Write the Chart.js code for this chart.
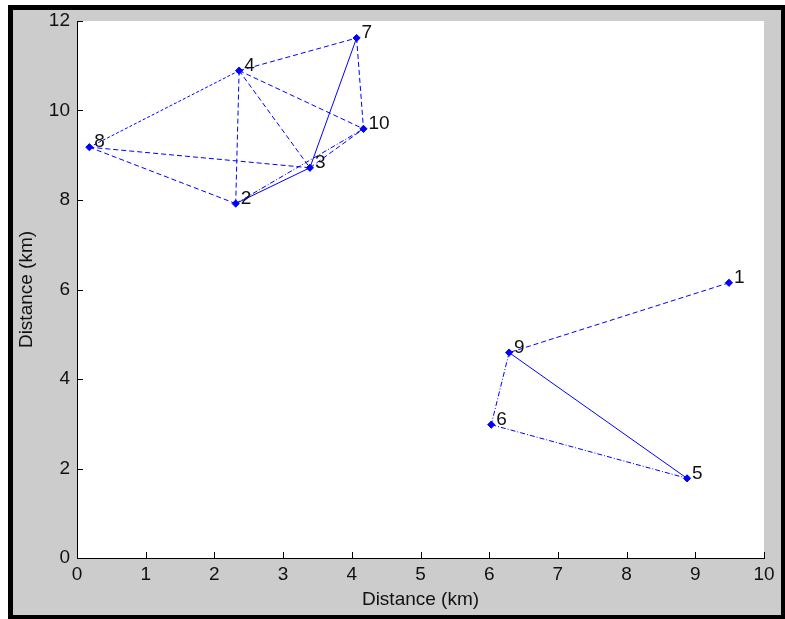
<!DOCTYPE html>
<html>
<head>
<meta charset="utf-8">
<title>Node layout</title>
<script src="https://cdn.jsdelivr.net/npm/chart.js@4/dist/chart.umd.min.js"></script>
<style>
  html, body { margin: 0; padding: 0; background: #ffffff; }
  #wrap { width: 785px; height: 619px; position: relative; }
  canvas { display: block; }
</style>
</head>
<body>
<div id="wrap"><canvas id="plot" width="785" height="619"></canvas></div>
<script>
// Node names and positions (km)
const nodeNames = ['1', '2', '3', '4', '5', '6', '7', '8', '9', '10'];
const nodeX = [9.49, 2.31, 3.39, 2.36, 8.88, 6.03, 4.07, 0.18, 6.29, 4.17];
const nodeY = [6.15, 7.92, 8.72, 10.89, 1.78, 2.98, 11.62, 9.18, 4.59, 9.59];

// Links between nodes (1-based node numbers), grouped by line style
const solidLinks = [[2, 3], [7, 3], [9, 5]];
const dashedLinks = [[8, 3], [4, 2], [4, 3], [4, 10], [4, 7], [7, 10], [1, 9], [8, 2], [3, 10]];
const dottedLinks = [[8, 4]];
const dashDotLinks = [[2, 10], [9, 6], [6, 5]];

// Axis ticks
const xTicks = [0, 1, 2, 3, 4, 5, 6, 7, 8, 9, 10];
const yTicks = [0, 2, 4, 6, 8, 10, 12];

const BLUE = '#0000ff';
const FONT = 'Liberation Sans, Arial, Helvetica, sans-serif';

function linkSet(links, dash) {
  return links.map(([a, b]) => ({
    data: [{ x: nodeX[a - 1], y: nodeY[a - 1] }, { x: nodeX[b - 1], y: nodeY[b - 1] }],
    showLine: true,
    borderColor: BLUE,
    borderWidth: 1,
    borderDash: dash,
    pointRadius: 0,
    fill: false
  }));
}

const datasets = [
  {
    data: nodeX.map((x, i) => ({ x: x, y: nodeY[i] })),
    showLine: false,
    pointStyle: 'rectRot',
    pointRadius: 3.6,
    pointBackgroundColor: BLUE,
    pointBorderColor: BLUE,
    pointBorderWidth: 1
  },
  ...linkSet(solidLinks, []),
  ...linkSet(dashedLinks, [5, 3]),
  ...linkSet(dottedLinks, [3, 2]),
  ...linkSet(dashDotLinks, [5, 2, 1, 2])
];

// Figure frame: grey panel with a black border, white axes area
const framePlugin = {
  id: 'frame',
  beforeDraw(chart) {
    const { ctx, chartArea: a } = chart;
    ctx.save();
    ctx.fillStyle = '#ffffff';
    ctx.fillRect(0, 0, chart.width, chart.height);
    ctx.fillStyle = '#000000';
    ctx.fillRect(8, 5, chart.width - 8, chart.height - 5);
    ctx.fillStyle = '#cccccc';
    ctx.fillRect(13, 10, chart.width - 17, chart.height - 14);
    ctx.fillStyle = '#ffffff';
    ctx.fillRect(a.left, a.top, a.right - a.left, a.bottom - a.top);
    ctx.restore();
  }
};

// Inward tick marks on both axes
const innerTicks = {
  id: 'innerTicks',
  afterDraw(chart) {
    const { ctx, chartArea: a, scales } = chart;
    ctx.save();
    ctx.strokeStyle = '#000000';
    ctx.lineWidth = 1;
    ctx.beginPath();
    xTicks.forEach(v => {
      const px = Math.round(scales.x.getPixelForValue(v)) + 0.5;
      ctx.moveTo(px, a.bottom);
      ctx.lineTo(px, a.bottom - 6);
    });
    yTicks.forEach(v => {
      const py = Math.round(scales.y.getPixelForValue(v)) + 0.5;
      ctx.moveTo(a.left, py);
      ctx.lineTo(a.left + 6, py);
    });
    ctx.stroke();
    ctx.restore();
  }
};

// Node number next to each node
const nodeLabels = {
  id: 'nodeLabels',
  afterDatasetsDraw(chart) {
    const { ctx, scales } = chart;
    ctx.save();
    ctx.fillStyle = '#111111';
    ctx.font = '19px ' + FONT;
    ctx.textAlign = 'left';
    ctx.textBaseline = 'middle';
    nodeNames.forEach((name, i) => {
      const px = scales.x.getPixelForValue(nodeX[i]);
      const py = scales.y.getPixelForValue(nodeY[i]);
      ctx.fillText(name, px + 5, py - 5);
    });
    ctx.restore();
  }
};

new Chart(document.getElementById('plot'), {
  type: 'scatter',
  data: { datasets: datasets },
  options: {
    responsive: false,
    animation: false,
    devicePixelRatio: 1,
    layout: { padding: { left: 0, top: 21, right: 21, bottom: 0 } },
    plugins: { legend: { display: false }, tooltip: { enabled: false } },
    scales: {
      x: {
        type: 'linear',
        min: 0, max: 10,
        afterFit(scale) { scale.height = 61; },
        afterBuildTicks(scale) { scale.ticks = xTicks.map(v => ({ value: v })); },
        grid: { display: false, drawTicks: false },
        border: { display: true, color: '#000000', width: 1 },
        ticks: { padding: 5, color: '#111111', font: { family: FONT, size: 19 }, maxRotation: 0 },
        title: {
          display: true, text: 'Distance (km)', color: '#111111',
          font: { family: FONT, size: 19 }, padding: { top: 0, bottom: 8 }
        }
      },
      y: {
        type: 'linear',
        min: 0, max: 12,
        afterFit(scale) { scale.width = 77; },
        afterBuildTicks(scale) { scale.ticks = yTicks.map(v => ({ value: v })); },
        grid: { display: false, drawTicks: false },
        border: { display: true, color: '#000000', width: 1 },
        ticks: { padding: 7, color: '#111111', font: { family: FONT, size: 19 } },
        title: {
          display: true, text: 'Distance (km)', color: '#111111',
          font: { family: FONT, size: 19 }, padding: { top: 15, bottom: 0 }
        }
      }
    }
  },
  plugins: [framePlugin, innerTicks, nodeLabels]
});
</script>
</body>
</html>
